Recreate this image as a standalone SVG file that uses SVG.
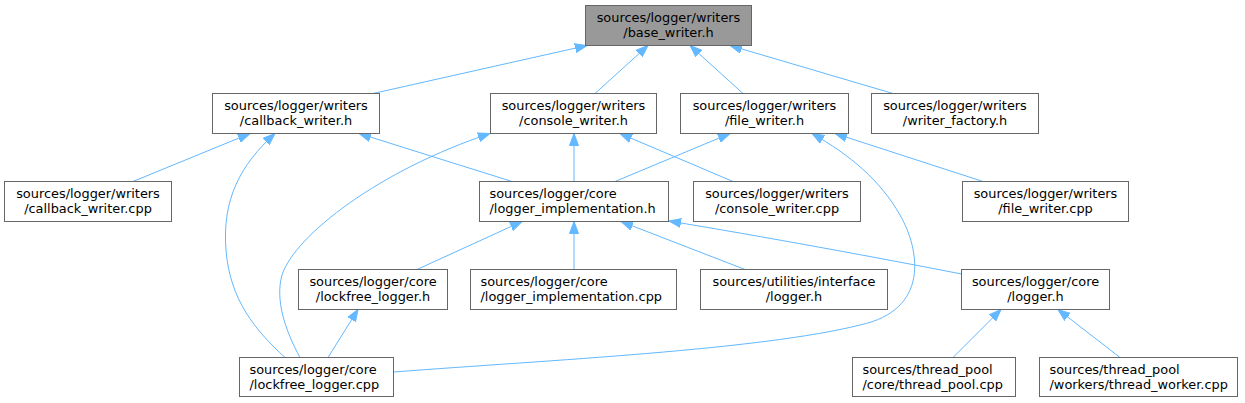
<svg xmlns="http://www.w3.org/2000/svg" width="1245" height="403" viewBox="0 0 1245 403">
<style>
.n rect{fill:#ffffff;stroke:#666666;stroke-width:1}
.n.h rect{fill:#999999}
.n text{font-family:"DejaVu Sans",sans-serif;font-size:12.9px;fill:#000000}
.c{text-anchor:middle}
#edges path{fill:none;stroke:#63b8ff;stroke-width:1;marker-end:url(#ah)}
</style>
<defs>
<marker id="ah" markerUnits="userSpaceOnUse" viewBox="0 0 12 10" markerWidth="12" markerHeight="10" refX="12" refY="5" orient="auto">
<path d="M0,0.5 L12,5 L0,9.5 z" fill="#63b8ff" stroke="#63b8ff" stroke-width="1"/>
</marker>
</defs>
<rect width="1245" height="403" fill="#ffffff"/>
<g id="edges">
<path d="M373,93.5 L587,45.5"/>
<path d="M595,93.5 L648,45.5"/>
<path d="M743,93.5 L690,45.5"/>
<path d="M893,93.5 L730,45.5"/>
<path d="M133,181.5 L250,133.5"/>
<path d="M285,357.5 C255,330 230,300 226,250 C222,200 240,165 275,133.5"/>
<path d="M512,181.5 L359,133.5"/>
<path d="M300,357.5 C285,330 275,300 282,275 C295,235 380,170 490,133.5"/>
<path d="M574,181.5 L574,133.5"/>
<path d="M733,181.5 L620,133.5"/>
<path d="M615,181.5 L730,133.5"/>
<path d="M983,181.5 L835,133.5"/>
<path d="M393.5,372 C550,360 760,350 860,325 C930,310 920,250 900,215 C880,180 850,155 812,133.5"/>
<path d="M417,269.5 L522,221.5"/>
<path d="M574,269.5 L574,221.5"/>
<path d="M745,269.5 L621,221.5"/>
<path d="M961.5,274 C880,258 760,236 669,221"/>
<path d="M328,357.5 L358,309.5"/>
<path d="M953,357.5 L1001,309.5"/>
<path d="M1120,357.5 L1058,309.5"/>
</g>
<g id="base_writer_h" class="n h"><rect x="585.5" y="5.5" width="166" height="40"/><text class="c" x="668.5" y="22">sources/logger/writers</text><text class="c" x="668.5" y="36.5">/base_writer.h</text></g>
<g id="callback_writer_h" class="n"><rect x="212.5" y="93.5" width="167" height="40"/><text class="c" x="296" y="110">sources/logger/writers</text><text class="c" x="296" y="124.5">/callback_writer.h</text></g>
<g id="console_writer_h" class="n"><rect x="490.5" y="93.5" width="166" height="40"/><text class="c" x="573.5" y="110">sources/logger/writers</text><text class="c" x="573.5" y="124.5">/console_writer.h</text></g>
<g id="file_writer_h" class="n"><rect x="680.5" y="93.5" width="168" height="40"/><text class="c" x="764.5" y="110">sources/logger/writers</text><text class="c" x="764.5" y="124.5">/file_writer.h</text></g>
<g id="writer_factory_h" class="n"><rect x="871.5" y="93.5" width="167" height="40"/><text class="c" x="955" y="110">sources/logger/writers</text><text class="c" x="955" y="124.5">/writer_factory.h</text></g>
<g id="callback_writer_cpp" class="n"><rect x="4.5" y="181.5" width="167" height="40"/><text class="c" x="88" y="198">sources/logger/writers</text><text class="c" x="88" y="212.5">/callback_writer.cpp</text></g>
<g id="logger_implementation_h" class="n"><rect x="479.5" y="181.5" width="189" height="40"/><text x="489.5" y="198">sources/logger/core</text><text x="489.5" y="212.5">/logger_implementation.h</text></g>
<g id="console_writer_cpp" class="n"><rect x="693.5" y="181.5" width="167" height="40"/><text class="c" x="777" y="198">sources/logger/writers</text><text class="c" x="777" y="212.5">/console_writer.cpp</text></g>
<g id="file_writer_cpp" class="n"><rect x="962.5" y="181.5" width="166" height="40"/><text class="c" x="1045.5" y="198">sources/logger/writers</text><text class="c" x="1045.5" y="212.5">/file_writer.cpp</text></g>
<g id="lockfree_logger_h" class="n"><rect x="298.5" y="269.5" width="149" height="40"/><text class="c" x="373" y="286">sources/logger/core</text><text class="c" x="373" y="300.5">/lockfree_logger.h</text></g>
<g id="logger_implementation_cpp" class="n"><rect x="470.5" y="269.5" width="206" height="40"/><text x="480.5" y="286">sources/logger/core</text><text x="480.5" y="300.5">/logger_implementation.cpp</text></g>
<g id="interface_logger_h" class="n"><rect x="700.5" y="269.5" width="187" height="40"/><text class="c" x="794" y="286">sources/utilities/interface</text><text class="c" x="794" y="300.5">/logger.h</text></g>
<g id="core_logger_h" class="n"><rect x="961.5" y="269.5" width="148" height="40"/><text class="c" x="1035.5" y="286">sources/logger/core</text><text class="c" x="1035.5" y="300.5">/logger.h</text></g>
<g id="lockfree_logger_cpp" class="n"><rect x="239.5" y="357.5" width="154" height="39"/><text x="249.5" y="374">sources/logger/core</text><text x="249.5" y="388.5">/lockfree_logger.cpp</text></g>
<g id="thread_pool_cpp" class="n"><rect x="852.5" y="357.5" width="163" height="39"/><text x="862.5" y="374">sources/thread_pool</text><text x="862.5" y="388.5">/core/thread_pool.cpp</text></g>
<g id="thread_worker_cpp" class="n"><rect x="1039.5" y="357.5" width="198" height="39"/><text x="1049.5" y="374">sources/thread_pool</text><text x="1049.5" y="388.5">/workers/thread_worker.cpp</text></g>
</svg>
